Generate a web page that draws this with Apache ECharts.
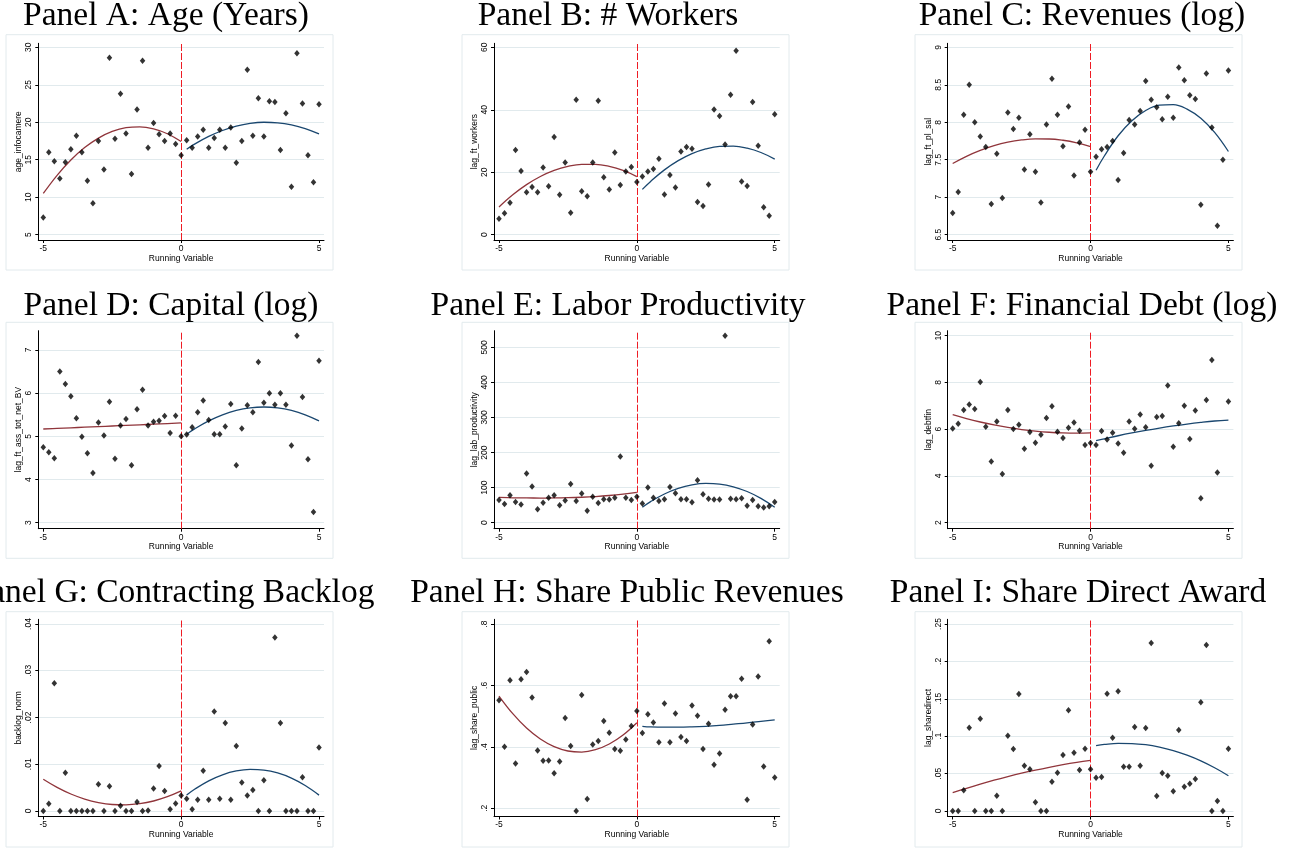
<!DOCTYPE html>
<html><head><meta charset="utf-8">
<script src="https://cdn.jsdelivr.net/npm/echarts@6/dist/echarts.min.js"></script>
<style>html,body{margin:0;padding:0;background:#fff}#c{width:1309px;height:850px}</style>
</head><body><div id="c"></div>
<script>
// bin centres of the running variable
const binX = [-5,-4.8,-4.6,-4.4,-4.2,-4,-3.8,-3.6,-3.4,-3.2,-3,-2.8,-2.6,-2.4,-2.2,-2,-1.8,-1.6,-1.4,-1.2,-1,-0.8,-0.6,-0.4,-0.2,0,0.2,0.4,0.6,0.8,1,1.2,1.4,1.6,1.8,2,2.2,2.4,2.6,2.8,3,3.2,3.4,3.6,3.8,4,4.2,4.4,4.6,4.8,5];
const xTicks = [-5,0,5];
// x positions where the fitted curves were read
const fitXLeft = [-5,-4.5,-4,-3.5,-3,-2.5,-2,-1.5,-1,-0.5,0];
const fitXRight = [0.2,0.5,1,1.5,2,2.5,3,3.5,4,4.5,5];

// Panel A
const ptsA = [7.3,16.0,14.8,12.5,14.65,16.4,18.2,16.0,12.2,9.2,17.5,13.7,28.6,17.8,23.8,18.5,13.1,21.7,28.2,16.6,19.9,18.4,17.5,18.5,17.1,15.6,17.6,16.6,18.1,19.0,16.6,17.9,19.0,16.6,19.3,14.6,17.5,27.0,18.2,23.2,18.1,22.8,22.7,16.3,21.2,11.4,29.2,22.5,15.6,12.0,22.4];
const fitLA = [10.5,12.92,14.96,16.62,17.89,18.78,19.28,19.39,19.12,18.47,17.43];
const fitRA = [16.4,17.11,18.11,18.9,19.48,19.85,20.0,19.93,19.65,19.16,18.45];
const ticksA = [5,10,15,20,25,30];
// Panel B
const ptsB = [5.1,6.9,10.2,27.1,20.4,13.6,15.3,13.6,21.5,15.5,31.3,12.8,23.1,7.0,43.2,13.9,12.3,23.1,42.9,18.4,14.5,26.3,15.9,20.2,21.7,16.9,18.6,20.2,21.0,24.3,12.9,19.1,15.1,26.6,28.1,27.5,10.5,9.2,16.1,40.1,38.0,28.9,44.8,58.9,17.0,15.6,42.5,28.5,8.75,6.1,38.6];
const fitLB = [8.87,12.77,16.02,18.62,20.57,21.87,22.52,22.52,21.87,20.57,18.62];
const fitRB = [14.5,17.06,20.75,23.7,25.96,27.47,28.27,28.34,27.69,26.32,24.22];
const ticksB = [0,20,40,60];
// Panel C
const ptsC = [6.79,7.07,8.10,8.50,8.00,7.81,7.67,6.91,7.58,6.99,8.13,7.91,8.06,7.37,7.84,7.34,6.93,7.97,8.58,8.10,7.68,8.21,7.29,7.73,7.90,7.34,7.54,7.64,7.67,7.75,7.23,7.59,8.03,7.97,8.15,8.55,8.30,8.20,8.04,8.34,8.06,8.73,8.56,8.36,8.31,6.90,8.65,7.93,6.62,7.50,8.69];
const fitLC = [7.45,7.545,7.624,7.687,7.734,7.764,7.778,7.777,7.760,7.726,7.676];
const fitRC = [7.36,7.55,7.82,8.02,8.157,8.228,8.235,8.176,8.053,7.864,7.61];
const ticksC = [6.5,7,7.5,8,8.5,9];
// Panel D
const ptsD = [4.75,4.63,4.49,6.50,6.21,5.93,5.42,4.99,4.61,4.15,5.32,5.02,5.80,4.48,5.25,5.40,4.33,5.63,6.08,5.25,5.34,5.36,5.47,5.08,5.48,5.00,5.04,5.21,5.56,5.83,5.38,5.05,5.05,5.23,5.75,4.33,5.18,5.72,5.56,6.72,5.78,6.00,5.73,6.00,5.73,4.79,7.33,5.91,4.47,3.25,6.75];
const fitLD = [5.17,5.184,5.198,5.212,5.226,5.24,5.254,5.268,5.282,5.296,5.31];
const fitRD = [5.05,5.178,5.358,5.499,5.600,5.660,5.68,5.660,5.600,5.499,5.358];
const ticksD = [3,4,5,6,7];
// Panel E
const ptsE = [64.6,53,78,59,52,140,103,38,57,71,78,50,63,110,62,83,34,74,56,67,66,71,189,71,65,74,55,100,71,62,67,102,84,67,67,58,121,81,68,66,66,533,68,67,70,48,65,47,43,47,59];
const fitLE = [72,71,70.5,70.3,70.5,71.2,72.5,74.5,77.5,81.5,86.5];
const fitRE = [44,60,81.8,97.7,107.8,111.9,110.1,102.4,88.9,69.4,44];
const ticksE = [0,100,200,300,400,500];
// Panel F
const ptsF = [6.03,6.23,6.82,7.06,6.86,8.02,6.11,4.62,6.33,4.08,6.82,6.01,6.19,5.16,5.88,5.42,5.76,6.48,6.98,5.89,5.62,6.06,6.29,5.93,5.32,5.41,5.32,5.92,5.56,5.85,5.39,4.99,6.33,6.02,6.63,6.08,4.44,6.52,6.56,7.87,5.25,6.25,7.00,5.58,6.80,3.05,7.25,8.96,4.15,null,7.18];
const fitLF = [6.62,6.454,6.308,6.181,6.074,5.986,5.918,5.869,5.840,5.83,5.84];
const fitRF = [5.51,5.59,5.72,5.84,5.95,6.05,6.14,6.22,6.29,6.35,6.39];
const ticksF = [2,4,6,8,10];
// Panel G
const ptsG = [0,0.00157,0.0273,0,0.0082,0,0,0,0,0,0.0057,0,0.0053,0,0.0011,0,0,0.0019,0,0.0001,0.0048,0.0096,0.0043,0.0004,0.0016,0.0033,0.0026,0.0004,0.0024,0.0086,0.0024,0.0213,0.0026,0.0188,0.0024,0.0139,0.0061,0.0033,0.0045,0,0.0066,0,0.0371,0.0188,0,0,0,0.0072,0,0,0.0136];
const fitLG = [0.0068,0.00506,0.00364,0.00256,0.00181,0.00139,0.00131,0.00156,0.00214,0.00306,0.0043];
const fitRG = [0.0034,0.00469,0.00646,0.00774,0.00856,0.00889,0.00875,0.00813,0.00703,0.00545,0.0034];
const ticksG = [0,0.01,0.02,0.03,0.04];
// Panel H
const ptsH = [0.552,0.400,0.617,0.346,0.620,0.644,0.561,0.388,0.355,0.356,0.314,0.352,0.494,0.403,0.191,0.569,0.230,0.408,0.419,0.484,0.446,0.393,0.387,0.424,0.468,0.517,0.445,0.506,0.479,0.415,0.541,0.415,0.509,0.432,0.419,0.535,0.501,0.393,0.475,0.342,0.378,0.521,0.565,0.565,0.622,0.228,0.473,0.629,0.336,0.744,0.300];
const fitLH = [0.5655,0.508,0.4613,0.4255,0.4006,0.3865,0.3832,0.3908,0.4093,0.4386,0.4787];
const fitRH = [0.467,0.465,0.464,0.464,0.465,0.467,0.470,0.474,0.478,0.483,0.488];
const ticksH = [0.2,0.4,0.6,0.8];
// Panel I
const ptsI = [0,0,0.0276,0.1114,0,0.1234,0,0,0.0205,0,0.1007,0.0829,0.1564,0.0606,0.0557,0.0116,0,0,0.0392,0.0512,0.0749,0.1346,0.078,0.0548,0.0833,0.0557,0.0446,0.0455,0.1569,0.098,0.160,0.0593,0.0593,0.1123,0.0606,0.111,0.2246,0.020,0.0508,0.0472,0.0263,0.1083,0.0325,0.0365,0.0428,0.1453,0.222,0,0.0134,0,0.0833];
const fitLI = [0.0245,0.0304,0.0360,0.0412,0.0460,0.0505,0.0546,0.0584,0.0619,0.0650,0.0677];
const fitRI = [0.0875,0.0890,0.0904,0.0902,0.0886,0.0854,0.0808,0.0746,0.0670,0.0578,0.0472];
const ticksI = [0,0.05,0.1,0.15,0.2,0.25];

const panels = [
 {title:'Panel A: Age (Years)', yName:'age_infocamere', ticks:ticksA, yMin:4.293, yMax:30.534, pts:ptsA, fl:fitLA, fr:fitRA, tx:166},
 {title:'Panel B: # Workers', yName:'lag_ft_workers', ticks:ticksB, yMin:-1.697, yMax:61.281, pts:ptsB, fl:fitLB, fr:fitRB, tx:608},
 {title:'Panel C: Revenues (log)', yName:'lag_ft_pl_sal', ticks:ticksC, yMin:6.4293, yMax:9.0534, pts:ptsC, fl:fitLC, fr:fitRC, tx:1082},
 {title:'Panel D: Capital (log)', yName:'lag_ft_ass_tot_net_BV', ticks:ticksD, yMin:2.861, yMax:7.447, pts:ptsD, fl:fitLD, fr:fitRD, tx:171},
 {title:'Panel E: Labor Productivity', yName:'lag_lab_productivity', ticks:ticksE, yMin:-17.1, yMax:547.3, pts:ptsE, fl:fitLE, fr:fitRE, tx:618},
 {title:'Panel F: Financial Debt (log)', yName:'lag_debtfin', ticks:ticksF, yMin:1.743, yMax:10.214, pts:ptsF, fl:fitLF, fr:fitRF, tx:1082},
 {title:'Panel G: Contracting Backlog', yName:'backlog_norm', ticks:ticksG, yMin:-0.001176, yMax:0.041005, pts:ptsG, fl:fitLG, fr:fitRG, tx:173},
 {title:'Panel H: Share Public Revenues', yName:'lag_share_public', ticks:ticksH, yMin:0.1733, yMax:0.8153, pts:ptsH, fl:fitLH, fr:fitRH, tx:627},
 {title:'Panel I: Share Direct Award', yName:'lag_sharedirect', ticks:ticksI, yMin:-0.00735, yMax:0.25628, pts:ptsI, fl:fitLI, fr:fitRI, tx:1078}
];

const colLeft = [38.3, 494, 947.7], gridW = 285.7;
const rowTop = [43.3, 330.7, 619.3], rowBot = [240, 528.7, 816.5];
const boxX = [6, 462, 915], boxW = 327;
const boxY = [34.7, 322.3, 611.7], boxH = [235.3, 236, 235.3];
const titleY = [16.5, 306.5, 593];

const SANS = '"Liberation Sans", Arial, sans-serif';
const fmt = v => { let s = String(+(+v).toFixed(4)); return s.replace(/^0\./,'.').replace(/^-0\./,'-.'); };

const grid = [], xAxis = [], yAxis = [], series = [], graphics = [];
panels.forEach((p, i) => {
  const r = Math.floor(i/3), c = i%3;
  grid.push({left: colLeft[c], top: rowTop[r], width: gridW, height: rowBot[r]-rowTop[r], containLabel:false});
  xAxis.push({type:'value', gridIndex:i, min:-5.181, max:5.181,
    axisLine:{show:true, onZero:false, lineStyle:{color:'#000', width:1}},
    axisTick:{show:true, customValues:xTicks, length:3, lineStyle:{color:'#000'}},
    axisLabel:{customValues:xTicks, fontSize:8.5, margin:4, color:'#000', fontFamily:SANS},
    splitLine:{show:false},
    name:'Running Variable', nameLocation:'middle', nameGap:13,
    nameTextStyle:{fontSize:8.5, color:'#000', fontFamily:SANS}});
  yAxis.push({type:'value', gridIndex:i, min:p.yMin, max:p.yMax,
    axisLine:{show:true, onZero:false, lineStyle:{color:'#000', width:1}},
    axisTick:{show:true, customValues:p.ticks, length:3, lineStyle:{color:'#000'}},
    axisLabel:{customValues:p.ticks, rotate:90, fontSize:8.5, margin:5, color:'#000', fontFamily:SANS, formatter:fmt},
    splitLine:{show:true, lineStyle:{color:'#e1eaed', width:1}},
    name:p.yName, nameLocation:'middle', nameGap:13, nameRotate:90,
    nameTextStyle:{fontSize:8.5, color:'#000', fontFamily:SANS}});
  series.push({type:'scatter', xAxisIndex:i, yAxisIndex:i, symbol:'diamond', symbolSize:[5.5,6.5],
    itemStyle:{color:'#000'}, z:5,
    data: binX.map((x,j)=>[x, p.pts[j]]).filter(d=>d[1]!==null),
    markLine:{silent:true, symbol:['none','none'], label:{show:false},
      lineStyle:{color:'#ee1c24', type:[7,2], width:1}, data:[{xAxis:0}]}});
  series.push({type:'line', xAxisIndex:i, yAxisIndex:i, smooth:0.4, showSymbol:false, symbol:'none',
    lineStyle:{color:'#90353b', width:1.3}, z:4, data: fitXLeft.map((x,j)=>[x, p.fl[j]])});
  series.push({type:'line', xAxisIndex:i, yAxisIndex:i, smooth:0.4, showSymbol:false, symbol:'none',
    lineStyle:{color:'#1a476f', width:1.3}, z:4, data: fitXRight.map((x,j)=>[x, p.fr[j]])});
  graphics.push({type:'rect', z:-10, shape:{x:boxX[c], y:boxY[r], width:boxW, height:boxH[r]},
    style:{fill:'none', stroke:'#e2eaed', lineWidth:1}});
  graphics.push({type:'text', x:p.tx, y:titleY[r],
    style:{text:p.title, font:'33.5px "Liberation Serif", "Times New Roman", serif', fill:'#000', align:'center', verticalAlign:'middle'}});
});

const chart = echarts.init(document.getElementById('c'), null, {renderer:'canvas'});
chart.setOption({animation:false, backgroundColor:'#fff', grid, xAxis, yAxis, series, graphic:{elements:graphics}});
</script></body></html>
